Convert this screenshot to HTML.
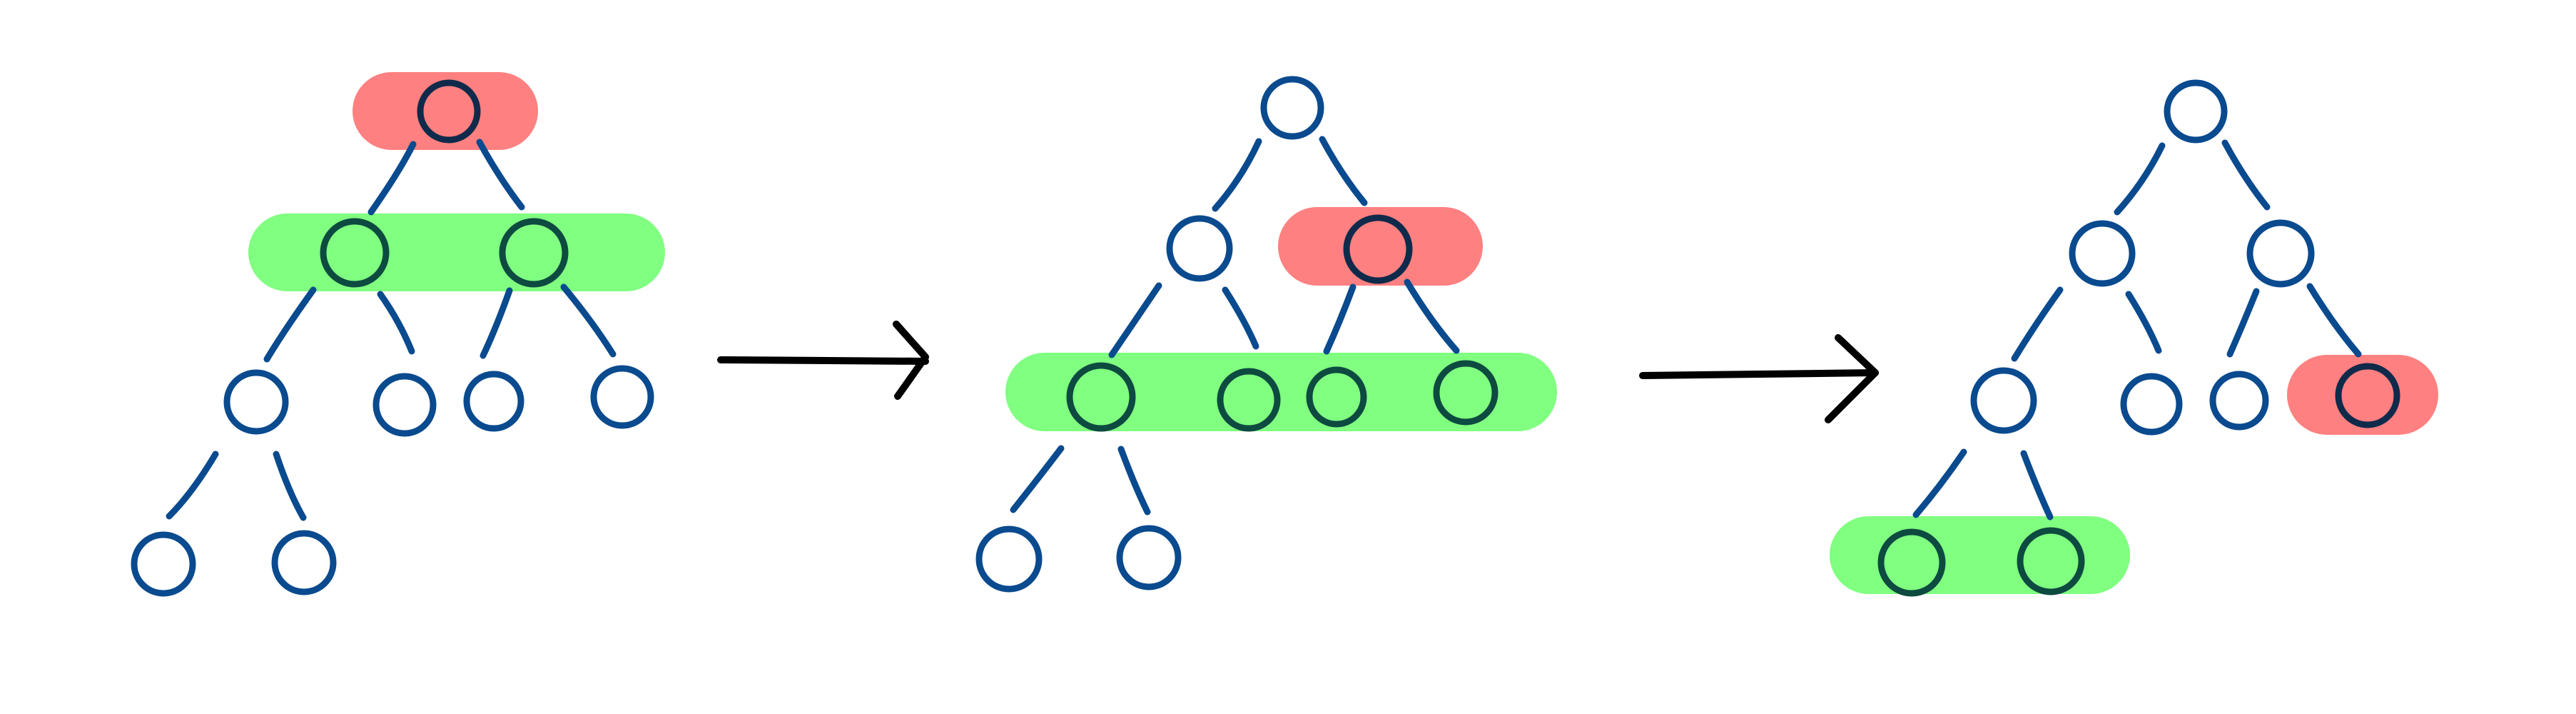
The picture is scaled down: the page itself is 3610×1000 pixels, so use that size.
<!DOCTYPE html>
<html><head><meta charset="utf-8"><style>html,body{margin:0;padding:0;background:#fff}svg{display:block}</style></head>
<body>
<svg width="3610" height="1000" viewBox="0 0 3610 1000" xmlns="http://www.w3.org/2000/svg">
<g fill="#ff8080">
<rect x="494" y="101" width="260" height="109" rx="55"/>
<rect x="1791" y="290" width="287" height="110" rx="55"/>
<rect x="3205" y="497" width="212" height="112" rx="56"/>
</g>
<g fill="#80ff80">
<rect x="348" y="299" width="584" height="109" rx="55"/>
<rect x="1409" y="494" width="773" height="110" rx="55"/>
<rect x="2564" y="723" width="421" height="109" rx="55"/>
</g>
<g stroke="#0a4a8e" stroke-width="9" stroke-linecap="round" fill="none">
<path d="M579 202 Q560 240 520 297"/><path d="M672 199 Q700 250 731 290"/>
<path d="M439 406 Q400 460 374 503"/><path d="M533 412 Q560 450 577 492"/>
<path d="M714 407 Q695 460 677 498"/><path d="M790 402 Q830 450 859 496"/>
<path d="M302 636 Q270 690 237 723"/><path d="M387 636 Q405 690 425 725"/>
<path d="M1764 198 Q1740 250 1703 292"/><path d="M1853 195 Q1880 245 1912 284"/>
<path d="M1624 400 Q1590 450 1558 497"/><path d="M1717 406 Q1745 450 1760 485"/>
<path d="M1896 402 Q1878 450 1859 492"/><path d="M1972 395 Q2005 450 2041 491"/>
<path d="M1487 628 Q1455 670 1420 714"/><path d="M1571 629 Q1590 680 1608 717"/>
<path d="M3030 204 Q3005 255 2967 297"/><path d="M3118 200 Q3145 250 3177 290"/>
<path d="M2887 406 Q2855 450 2823 502"/><path d="M2983 412 Q3010 455 3025 491"/>
<path d="M3162 408 Q3143 455 3125 496"/><path d="M3237 401 Q3270 455 3305 496"/>
<path d="M2752 633 Q2720 680 2685 721"/><path d="M2836 635 Q2855 685 2873 724"/>
<circle cx="359" cy="563" r="41"/><circle cx="567" cy="567" r="40"/><circle cx="692" cy="562" r="38"/><circle cx="872" cy="556" r="40"/>
<circle cx="229" cy="790" r="41"/><circle cx="426" cy="788" r="41"/>
<circle cx="1811" cy="151" r="40"/><circle cx="1681" cy="348" r="42"/>
<circle cx="1414" cy="783" r="42"/><circle cx="1610" cy="781" r="41"/>
<circle cx="3077" cy="156" r="40"/><circle cx="2946" cy="355" r="42"/><circle cx="3196" cy="355" r="43"/>
<circle cx="2808" cy="561" r="42"/><circle cx="3015" cy="566" r="39"/><circle cx="3138" cy="561" r="37"/>
</g>
<g stroke="#0f2a4a" stroke-width="9" fill="none">
<circle cx="629" cy="156" r="40"/>
<circle cx="1931" cy="349" r="44"/>
<circle cx="3318" cy="554" r="41"/>
</g>
<g stroke="#0d4a40" stroke-width="9" fill="none">
<circle cx="497" cy="354" r="44"/><circle cx="748" cy="354" r="44"/>
<circle cx="1543" cy="556" r="44"/><circle cx="1750" cy="560" r="40"/><circle cx="1873" cy="556" r="38"/><circle cx="2054" cy="550" r="41"/>
<circle cx="2679" cy="788" r="43"/><circle cx="2874" cy="786" r="43"/>
</g>
<g stroke="#000" stroke-width="10" stroke-linecap="round" stroke-linejoin="round" fill="none">
<path d="M1010 504 L1297 506"/><path d="M1256 454 L1297 500 L1258 555"/>
<path d="M2302 526 L2628 522"/><path d="M2576 473 L2628 522 L2562 588"/>
</g>
</svg>
</body></html>
